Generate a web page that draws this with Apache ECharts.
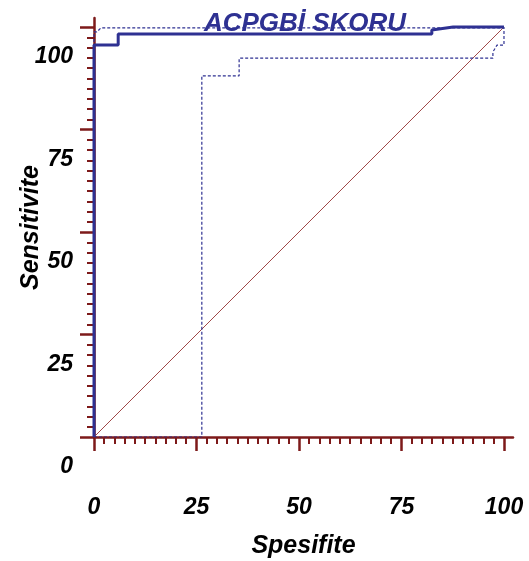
<!DOCTYPE html>
<html lang="tr">
<head>
<meta charset="UTF-8">
<title>ACPGBİ SKORU</title>
<script src="https://cdn.jsdelivr.net/npm/echarts@6/dist/echarts.min.js"></script>
<style>
  html, body { margin: 0; padding: 0; background: #fff; }
  #chart { width: 529px; height: 561px; }
</style>
</head>
<body>
<div id="chart"></div>
<script>
  // ROC egrisi (Spesifite, Sensitivite)
  const rocSpec = [0, 0, 5.9, 5.9, 82.4, 82.4, 87.6, 100];
  const rocSens = [0, 95.6, 95.6, 98.3, 98.3, 99.3, 100, 100];

  // %95 guven araligi - ust sinir
  const upperSpec = [0, 0, 0.7, 1.7, 100];
  const upperSens = [0, 98.8, 98.8, 99.8, 99.8];

  // %95 guven araligi - alt sinir
  const lowerSpec = [0, 26.3, 26.3, 35.4, 35.4, 97.3, 97.3, 98.3, 100, 100];
  const lowerSens = [0, 0, 88.1, 88.1, 92.4, 92.4, 93.9, 95.6, 95.6, 100];

  // referans cizgisi
  const diagSpec = [0, 100];
  const diagSens = [0, 100];

  const majorTicks = [0, 25, 50, 75, 100];
  const minorTicks = [2.5, 5, 7.5, 10, 12.5, 15, 17.5, 20, 22.5,
                      27.5, 30, 32.5, 35, 37.5, 40, 42.5, 45, 47.5,
                      52.5, 55, 57.5, 60, 62.5, 65, 67.5, 70, 72.5,
                      77.5, 80, 82.5, 85, 87.5, 90, 92.5, 95, 97.5];

  const AXIS_MAX = 102.2;
  const MAROON = '#7d1a1a';
  const BLUE = '#2e3192';
  const FONT = '"Liberation Sans", Arial, sans-serif';

  function pairs(xs, ys) {
    return xs.map((x, i) => [x, ys[i]]);
  }

  const textStyle = {
    fontFamily: FONT,
    fontWeight: 'bold',
    fontStyle: 'italic',
    color: '#000'
  };

  function majorAxis(extra) {
    return Object.assign({
      type: 'value',
      min: 0,
      max: AXIS_MAX,
      axisLine: { show: true, onZero: false, lineStyle: { color: MAROON, width: 2.5 } },
      axisTick: { show: true, customValues: majorTicks, length: 14, lineStyle: { color: MAROON, width: 2.5 } },
      splitLine: { show: false }
    }, extra);
  }

  function minorAxis(position) {
    return {
      type: 'value',
      position: position,
      min: 0,
      max: AXIS_MAX,
      axisLine: { show: false },
      axisTick: { show: true, customValues: minorTicks, length: 7, lineStyle: { color: MAROON, width: 2 } },
      axisLabel: { show: false },
      splitLine: { show: false }
    };
  }

  const chart = echarts.init(document.getElementById('chart'));

  chart.setOption({
    animation: false,
    backgroundColor: '#fff',
    title: {
      text: 'ACPGBİ SKORU',
      left: 300,
      top: 6,
      textAlign: 'center',
      textStyle: Object.assign({}, textStyle, { color: BLUE, fontSize: 26 })
    },
    grid: { left: 94, right: 16, top: 18, bottom: 124, outerBoundsMode: 'none', containLabel: false },
    xAxis: [
      majorAxis({
        position: 'bottom',
        axisLabel: Object.assign({ customValues: majorTicks, margin: 59, fontSize: 23 }, textStyle),
        name: 'Spesifite',
        nameLocation: 'middle',
        nameGap: 97,
        nameMoveOverlap: false,
        nameTextStyle: Object.assign({ fontSize: 25 }, textStyle)
      }),
      minorAxis('bottom')
    ],
    yAxis: [
      majorAxis({
        position: 'left',
        // etiketler tik isaretlerinin ~30px altinda duruyor
        axisLabel: Object.assign({
          customValues: majorTicks,
          margin: 21,
          fontSize: 23,
          lineHeight: 20,
          verticalAlign: 'top',
          showMinLabel: true,
          showMaxLabel: true,
          hideOverlap: false,
          formatter: v => '\n' + v
        }, textStyle),
        name: 'Sensitivite',
        nameLocation: 'middle',
        nameGap: 50,
        nameRotate: 90,
        nameMoveOverlap: false,
        nameTextStyle: Object.assign({ fontSize: 25 }, textStyle)
      }),
      minorAxis('left')
    ],
    series: [
      {
        type: 'line',
        data: pairs(diagSpec, diagSens),
        symbol: 'none',
        silent: true,
        lineStyle: { color: '#a04848', width: 1 }
      },
      {
        type: 'line',
        data: pairs(lowerSpec, lowerSens),
        symbol: 'none',
        silent: true,
        lineStyle: { color: BLUE, width: 1.2, type: [3, 2] }
      },
      {
        type: 'line',
        data: pairs(upperSpec, upperSens),
        symbol: 'none',
        silent: true,
        lineStyle: { color: BLUE, width: 1.2, type: [3, 2] }
      },
      {
        type: 'line',
        data: pairs(rocSpec, rocSens),
        symbol: 'none',
        silent: true,
        lineStyle: { color: BLUE, width: 3 }
      }
    ]
  });
</script>
</body>
</html>
